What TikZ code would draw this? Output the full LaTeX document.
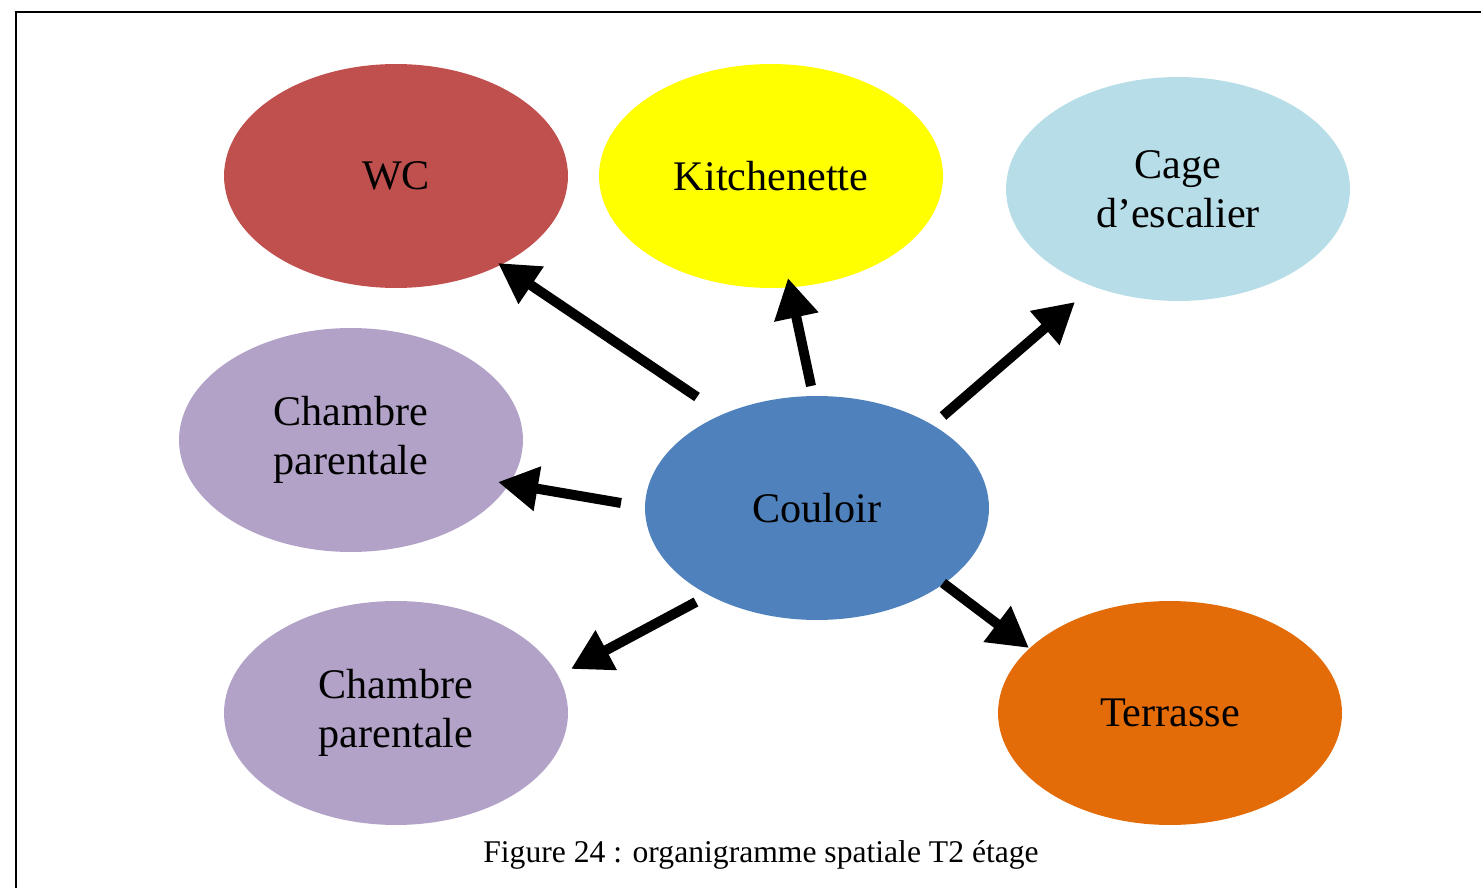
\documentclass[tikz,border=0pt]{standalone}
\usepackage{fontspec}
\setmainfont{Liberation Serif}
\usepackage{xcolor}
\usepackage{tikz}
\usetikzlibrary{arrows.meta, shapes.geometric}
\definecolor{wccolor}{HTML}{C0504D}
\definecolor{kitchcolor}{HTML}{FFFF00}
\definecolor{stairscolor}{HTML}{B7DEE8}
\definecolor{roomcolor}{HTML}{B2A2C7}
\definecolor{hallcolor}{HTML}{4F81BD}
\definecolor{terracecolor}{HTML}{E36C09}
\tikzset{
  space/.style={ellipse, minimum width=6.88cm, minimum height=4.48cm, inner sep=0pt, align=center, font=\fontsize{24pt}{28pt}\selectfont},
  flow/.style={line width=0.2cm, -{Triangle[length=0.8cm, width=0.85cm]}},
}

\begin{document}
\begin{tikzpicture}[x=0.02cm, y=-0.02cm]%
\useasboundingbox (0,0) rectangle (1481,888);%
\draw[line width=0.04cm] (16,888) -- (16,12) -- (1481,12);%
% rooms
\node[space, fill=wccolor] (wc) at (396,176) {WC};%
\node[space, fill=kitchcolor] (kitchenette) at (771,176) {Kitchenette};%
\node[space, fill=stairscolor] (cage) at (1178,189) {Cage\\d’escalier};%
\node[space, fill=roomcolor] (chambre1) at (351,440) {Chambre\\parentale};%
\node[space, fill=hallcolor] (couloir) at (817,508) {Couloir};%
\node[space, fill=roomcolor] (chambre2) at (396,713) {Chambre\\parentale};%
\node[space, fill=terracecolor] (terrasse) at (1170,713) {Terrasse};%
% arrow ends
\coordinate (t-wc) at (697,397);%
\coordinate (h-wc) at (498,263);%
\coordinate (t-kitchenette) at (811,386);%
\coordinate (h-kitchenette) at (788,278);%
\coordinate (t-cage) at (943,416);%
\coordinate (h-cage) at (1075,302);%
\coordinate (t-chambre1) at (621,503);%
\coordinate (h-chambre1) at (498,482);%
\coordinate (t-chambre2) at (696,602);%
\coordinate (h-chambre2) at (571,669);%
\coordinate (t-terrasse) at (943,583);%
\coordinate (h-terrasse) at (1029,648);%
\draw[flow] (t-wc) -- (h-wc);%
\draw[flow] (t-kitchenette) -- (h-kitchenette);%
\draw[flow] (t-cage) -- (h-cage);%
\draw[flow] (t-chambre1) -- (h-chambre1);%
\draw[flow] (t-chambre2) -- (h-chambre2);%
\draw[flow] (t-terrasse) -- (h-terrasse);%
\node[font=\fontsize{18pt}{22pt}\selectfont] (caption) at (761,855) {Figure 24 : organigramme spatiale T2 étage};%
\end{tikzpicture}
\end{document}
